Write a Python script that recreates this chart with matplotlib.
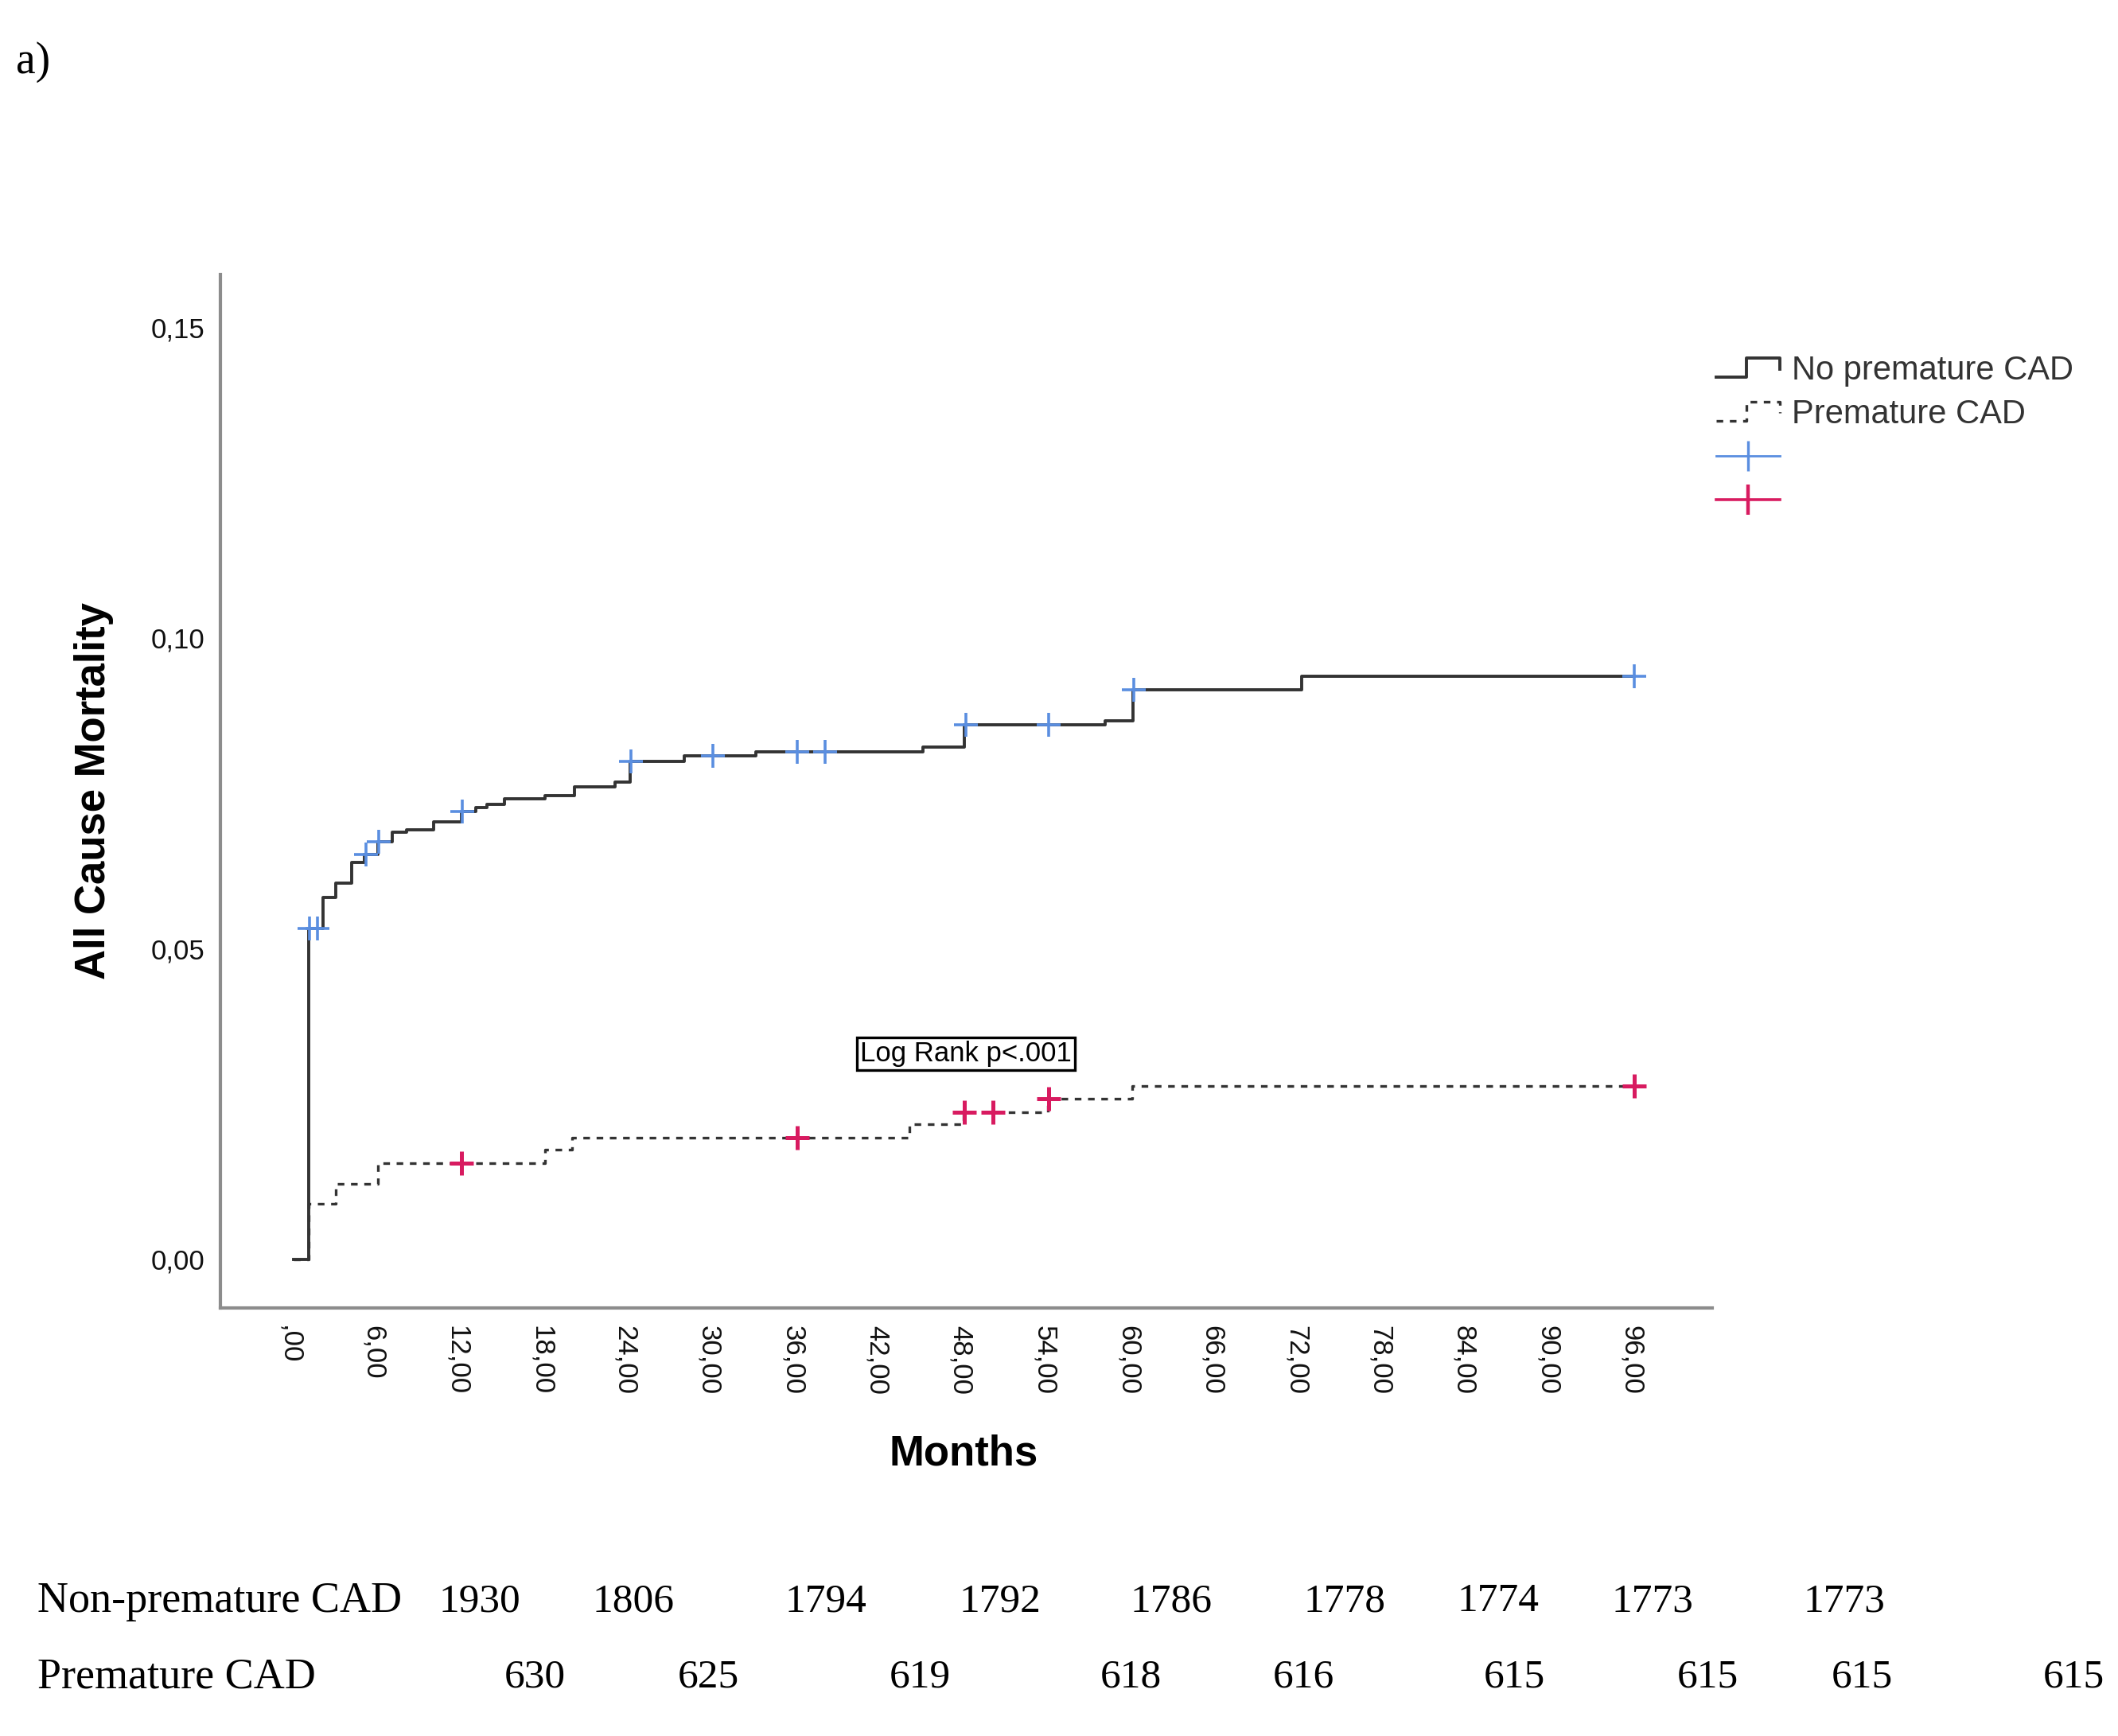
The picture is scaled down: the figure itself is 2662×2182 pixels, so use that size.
import numpy as np
import matplotlib.pyplot as plt
from matplotlib.lines import Line2D
from matplotlib.legend_handler import HandlerBase


# data (months, cumulative mortality)
months_np = [0.3, 1.34, 2.4, 3.3, 4.44, 5.33, 6.34, 7.36, 8.38, 10.28, 12.31, 13.33, 14.09,
             15.36, 18.28, 20.4, 23.28, 24.35, 28.25, 33.35, 45.3, 48.26, 58.34, 60.35, 72.4, 96.2]
mort_np = [0.0, 0.0532, 0.0582, 0.0606, 0.0639, 0.0652, 0.0672, 0.0687, 0.0691, 0.0704, 0.0721, 0.0727, 0.0732,
           0.0741, 0.0747, 0.0761, 0.0768, 0.0802, 0.0810, 0.0817, 0.0824, 0.0860, 0.0867, 0.0917, 0.0939, 0.0939]
censor_np = [1.4, 2.0, 5.45, 6.4, 12.35, 24.4, 30.3, 36.3, 38.3, 48.4, 54.3, 60.4, 96.2]

months_p = [0.3, 1.34, 3.32, 6.32, 18.26, 20.23, 44.35, 48.2, 54.24, 60.3, 96.2]
mort_p = [0.0, 0.0089, 0.0121, 0.0155, 0.0177, 0.0196, 0.0217, 0.0237, 0.0258, 0.0279, 0.0279]
censor_p = [12.3, 36.3, 48.3, 50.3, 54.3, 96.2]

xticks = np.arange(0, 97, 6)
xtick_labels = [",00"] + ["{},00".format(t) for t in xticks[1:]]
yticks = [0.0, 0.05, 0.10, 0.15]
ytick_labels = ["0,00", "0,05", "0,10", "0,15"]

# numbers at risk
risk_np = ["1930", "1806", "1794", "1792", "1786", "1778", "1774", "1773", "1773"]
risk_p = ["630", "625", "619", "618", "616", "615", "615", "615", "615"]
# horizontal placement of the at-risk numbers (figure fraction)
risk_np_x = [0.2265, 0.2992, 0.3897, 0.4720, 0.5530, 0.6347, 0.7074, 0.7801, 0.8707]
risk_p_x = [0.2526, 0.3343, 0.4344, 0.5339, 0.6156, 0.7151, 0.8063, 0.8790, 0.9791]

blue = "#5a8ee0"
red = "#d81b60"
dark = "#333333"

plt.rcParams['font.family'] = ['Liberation Sans', 'DejaVu Sans']


class StepHandler(HandlerBase):
    # legend glyph shaped like a small step
    def create_artists(self, legend, orig_handle, xdescent, ydescent, width, height, fontsize, trans):
        x0 = -xdescent
        y0 = -ydescent
        xs = [x0, x0 + 0.48 * width, x0 + 0.48 * width, x0 + width, x0 + width]
        ys = [y0 + 0.1 * height, y0 + 0.1 * height, y0 + 0.95 * height, y0 + 0.95 * height, y0 + 0.45 * height]
        ln = Line2D(xs, ys)
        ln.update_from(orig_handle)
        ln.set_transform(trans)
        return [ln]


def step_value(times, vals, t):
    idx = np.searchsorted(times, t, side='right') - 1
    return np.array(vals)[idx]


fig = plt.figure(figsize=(13.31, 10.91), dpi=200)
ax = fig.add_axes([0.1041, 0.2466, 0.7044, 0.5953])

dash = (0, (2.5, 2.5))
ax.step(months_p, mort_p, where='post', color=dark, lw=1.2, ls=dash)
ax.step(months_np, mort_np, where='post', color=dark, lw=1.4)

ax.plot(censor_np, step_value(months_np, mort_np, censor_np), ls='none', marker='+',
        ms=11, mew=1.3, color=blue)
ax.plot(censor_p, step_value(months_p, mort_p, censor_p), ls='none', marker='+',
        ms=11, mew=1.8, color=red)

ax.set_xlim(-4.95, 101.8)
ax.set_ylim(-0.0078, 0.1585)

ax.set_xticks(xticks)
ax.set_xticklabels(xtick_labels, rotation=-90, va='top', ha='center')
ax.set_yticks(yticks)
ax.set_yticklabels(ytick_labels)
ax.tick_params(axis='both', length=0, labelsize=12.5, colors='#111111')
ax.tick_params(axis='x', pad=8)
ax.tick_params(axis='y', pad=7)

for s in ['top', 'right']:
    ax.spines[s].set_visible(False)
for s in ['left', 'bottom']:
    ax.spines[s].set_color('#8c8c8c')
    ax.spines[s].set_linewidth(1.5)

ax.set_ylabel("All Cause Mortality", fontsize=19, fontweight='bold')
ax.yaxis.set_label_coords(-0.085, 0.5)
ax.set_xlabel("Months", fontsize=19, fontweight='bold')
ax.xaxis.set_label_coords(0.498, -0.141)
ax.xaxis.label.set_va('center')
ax.yaxis.label.set_va('center')

ax.text(48.37, 0.0331, "Log Rank p<.001", fontsize=12.5, ha='center', va='center',
        bbox=dict(boxstyle='square,pad=0.12', fc='white', ec='black', lw=1.2))

# legend
h1 = Line2D([], [], color=dark, lw=1.4)
h2 = Line2D([], [], color=dark, lw=1.2, ls=dash)
h3 = Line2D([], [], color=blue, lw=1.0, marker='|', ms=14, mew=1.2)
h4 = Line2D([], [], color=red, lw=1.3, marker='|', ms=14, mew=1.6)
fig.legend([h1, h2, h3, h4], ["No premature CAD", "Premature CAD", "", ""],
           loc='upper left', bbox_to_anchor=(0.8103, 0.7955), frameon=False,
           fontsize=15, labelcolor=dark, handlelength=1.92, handletextpad=0.35,
           labelspacing=0.36, borderpad=0, borderaxespad=0,
           handler_map={h1: StepHandler(), h2: StepHandler()})

# panel letter
fig.text(0.0075, 0.958, "a)", fontsize=20, family='Liberation Serif', va='baseline')

# numbers at risk table
fig.text(0.0178, 0.0775, "Non-premature CAD", fontsize=19.5, family='Liberation Serif', va='center')
fig.text(0.0178, 0.0339, "Premature CAD", fontsize=19.5, family='Liberation Serif', va='center')
for x, n in zip(risk_np_x, risk_np):
    fig.text(x, 0.0775, n, fontsize=18.5, family='Liberation Serif', va='center', ha='center')
for x, n in zip(risk_p_x, risk_p):
    fig.text(x, 0.0339, n, fontsize=18.5, family='Liberation Serif', va='center', ha='center')

plt.savefig("out.png", dpi=200)
